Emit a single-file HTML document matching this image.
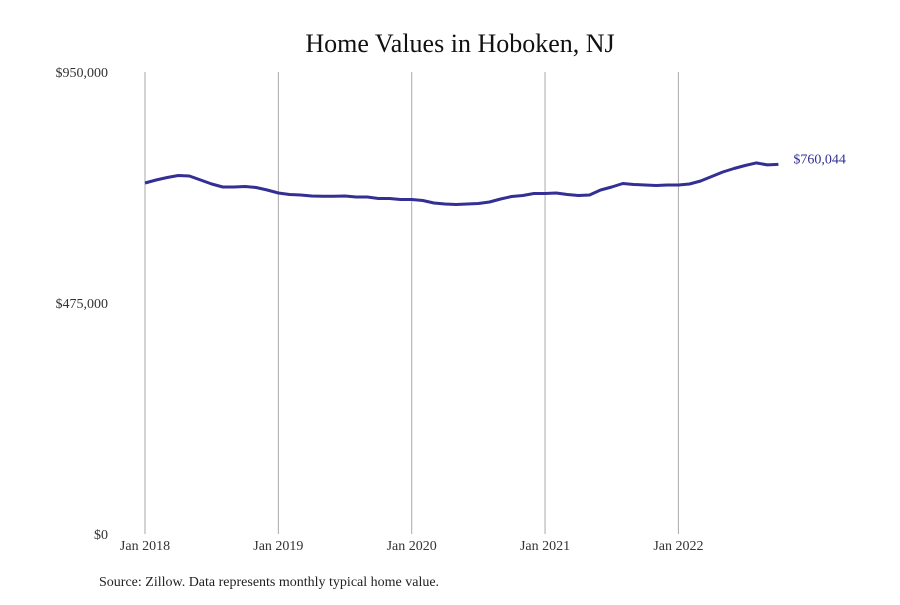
<!DOCTYPE html>
<html><head><meta charset="utf-8"><style>
body{margin:0;background:#fff;}
svg text{font-family:"Liberation Serif",serif;}
</style></head><body>
<svg id="chart" width="900" height="600">
<text x="460" y="52" text-anchor="middle" font-size="26" fill="#111">Home Values in Hoboken, NJ</text>
<g id="grid"></g><g id="yaxis"></g><g id="xaxis"></g><g id="series"></g>
<text x="99" y="586" font-size="14" fill="#222">Source: Zillow. Data represents monthly typical home value.</text>
</svg>
<script>
const values2018 = [721700,728000,733000,737200,736100,728000,719700,713500,713500,714500,712500,707300];
const values2019 = [701200,698100,697100,695000,694600,694600,695000,693000,693000,689900,689900,687800];
const values2020 = [687800,685700,680600,678500,677500,678500,679600,682700,688800,694000,696000,700100];
const values2021 = [700100,701200,698100,696000,697100,707300,713500,720700,718600,717600,716600,717600];
const values2022 = [717600,719700,725800,735100,744300,751500,757700,763000,759000,760044];
const yTicks = [0,475000,950000];
const yTickLabels = ["$0","$475,000","$950,000"];
const xTickLabels = ["Jan 2018","Jan 2019","Jan 2020","Jan 2021","Jan 2022"];
const lastLabel = "$760,044";
const values = [].concat(values2018,values2019,values2020,values2021,values2022);
const NS="http://www.w3.org/2000/svg";
const x0=145, monthW=133.35/12, yBot=534, yTop=72, yMax=950000;
const xS=i=>x0+i*monthW;
const yS=v=>yBot-(v/yMax)*(yBot-yTop);
function mk(tag,attrs,parent){const e=document.createElementNS(NS,tag);for(const k in attrs)e.setAttribute(k,attrs[k]);document.getElementById(parent).appendChild(e);return e;}
xTickLabels.forEach((lab,i)=>{
  const x=xS(i*12);
  const l=mk('line',{x1:x,x2:x,y1:yTop,y2:yBot,stroke:'#aaa','stroke-width':1},'grid');
  
  
  const t=mk('text',{x:x,y:550,'text-anchor':'middle','font-size':14,fill:'#333'},'xaxis');
  t.textContent=lab;
  
  
});
yTicks.forEach((v,i)=>{
  const t=mk('text',{x:108,y:yS(v)+5,'text-anchor':'end','font-size':14,fill:'#333'},'yaxis');
  t.textContent=yTickLabels[i];
  
  
});
const d=values.map((v,i)=>(i?'L':'M')+xS(i).toFixed(1)+','+yS(v).toFixed(1)).join(' ');
const p=mk('path',{d:d,fill:'none',stroke:'#332f93','stroke-width':3,'stroke-linejoin':'round'},'series');


const n=values.length-1;
const lt=mk('text',{x:xS(n)+15,y:yS(values[n])-1,'font-size':14,fill:'#332f93'},'series');
lt.textContent=lastLabel;


</script>
</body></html>
